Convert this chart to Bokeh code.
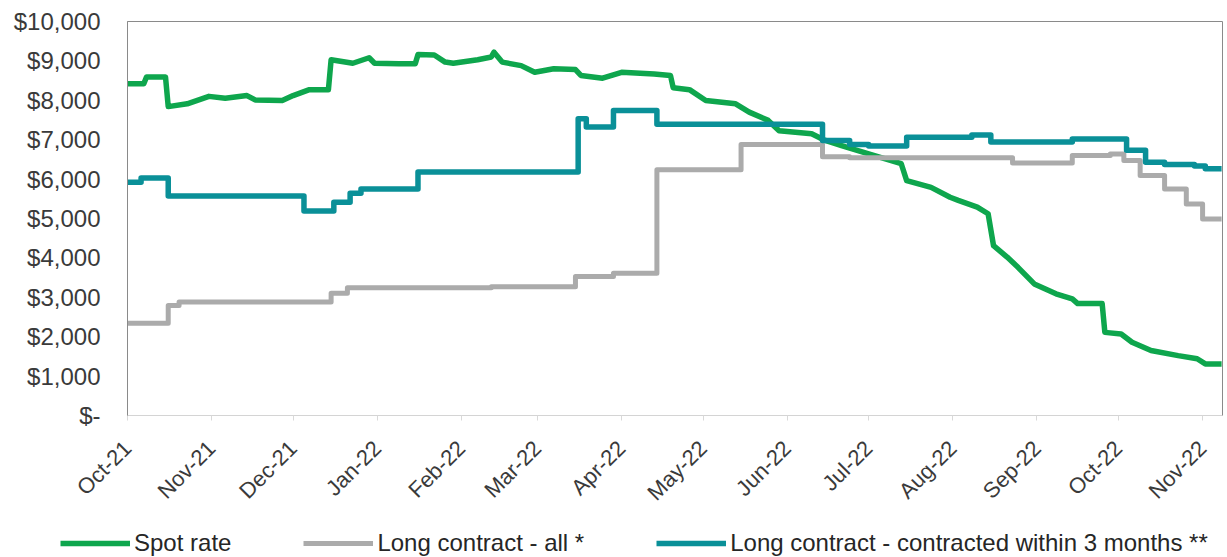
import pandas as pd
from math import pi
from bokeh.plotting import figure
from bokeh.layouts import column
from bokeh.models import (Range1d, FixedTicker, CustomJSTickFormatter, DatetimeTickFormatter,
                          MonthsTicker, Legend, LegendItem)
from bokeh.embed import file_html
from bokeh.resources import INLINE

# ---------------- data ----------------
spot_dates = [
    "2021-10-01", "2021-10-07", "2021-10-08", "2021-10-15", "2021-10-16", "2021-10-23",
    "2021-10-31", "2021-11-06", "2021-11-14", "2021-11-17", "2021-11-27", "2021-12-01",
    "2021-12-07", "2021-12-14", "2021-12-15", "2021-12-23", "2021-12-29", "2021-12-31",
    "2022-01-09", "2022-01-15", "2022-01-16", "2022-01-22", "2022-01-26", "2022-01-29",
    "2022-02-07", "2022-02-12", "2022-02-13", "2022-02-16", "2022-02-23", "2022-02-28",
    "2022-03-07", "2022-03-15", "2022-03-17", "2022-03-25", "2022-04-01", "2022-04-13",
    "2022-04-19", "2022-04-20", "2022-04-26", "2022-05-02", "2022-05-13", "2022-05-18",
    "2022-05-25", "2022-05-29", "2022-06-10", "2022-06-15", "2022-06-21", "2022-07-01",
    "2022-07-13", "2022-07-15", "2022-07-24", "2022-07-31", "2022-08-03", "2022-08-10",
    "2022-08-14", "2022-08-16", "2022-08-21", "2022-08-25", "2022-08-31", "2022-09-08",
    "2022-09-14", "2022-09-16", "2022-09-25", "2022-09-26", "2022-10-02", "2022-10-06",
    "2022-10-13", "2022-10-23", "2022-10-30", "2022-11-02", "2022-11-08",
]
spot_values = [
    8420, 8420, 8590, 8590, 7840, 7910,
    8100, 8050, 8120, 8010, 7995, 8120,
    8270, 8270, 9030, 8940, 9080, 8940,
    8930, 8930, 9160, 9150, 8970, 8940,
    9030, 9100, 9220, 8970, 8880, 8710,
    8800, 8780, 8630, 8560, 8710, 8670,
    8630, 8320, 8270, 7995, 7910, 7700,
    7490, 7230, 7150, 6980, 6850, 6640,
    6390, 5960, 5790, 5540, 5460, 5290,
    5120, 4310, 4020, 3760, 3340, 3090,
    2960, 2840, 2840, 2110, 2070, 1860,
    1650, 1520, 1440, 1310, 1310,
]

all_dates = [
    "2021-10-01", "2021-10-16", "2021-10-20", "2021-12-15", "2021-12-21", "2022-02-12",
    "2022-03-15", "2022-03-29", "2022-04-14", "2022-05-15", "2022-06-14", "2022-06-24",
    "2022-08-23", "2022-09-14", "2022-09-28", "2022-10-03", "2022-10-09", "2022-10-18",
    "2022-10-26", "2022-11-01", "2022-11-08",
]
all_values = [
    2340, 2790, 2880, 3100, 3240, 3270,
    3530, 3610, 6240, 6880, 6570, 6540,
    6410, 6600, 6640, 6470, 6090, 5750,
    5370, 4990, 4990,
]

recent_dates = [
    "2021-10-01", "2021-10-06", "2021-10-16", "2021-12-05", "2021-12-16", "2021-12-22",
    "2021-12-26", "2022-01-16", "2022-03-16", "2022-03-19", "2022-03-29", "2022-04-14",
    "2022-06-14", "2022-06-24", "2022-07-01", "2022-07-15", "2022-08-08", "2022-08-15",
    "2022-09-14", "2022-10-04", "2022-10-11", "2022-10-18", "2022-10-29", "2022-11-02",
    "2022-11-08",
]
recent_values = [
    5920, 6030, 5570, 5190, 5410, 5640,
    5750, 6180, 7530, 7320, 7740, 7390,
    6980, 6880, 6840, 7060, 7120, 6940,
    7020, 6730, 6430, 6370, 6330, 6260,
    6260,
]

y_ticks = [0, 1000, 2000, 3000, 4000, 5000, 6000, 7000, 8000, 9000, 10000]
series_labels = ["Spot rate", "Long contract - all *", "Long contract - contracted within 3 months **"]
series_colors = ["#0EA64D", "#ABABAB", "#0A9098"]

# ---------------- main chart ----------------
FONT = "Liberation Sans"
TEXT = "#3a3a3a"

p = figure(width=1227, height=520, x_axis_type="datetime",
           output_backend="svg", toolbar_location=None,
           min_border_left=127, min_border_right=5, min_border_top=21, min_border_bottom=105)

p.x_range = Range1d(pd.Timestamp("2021-10-01"), pd.Timestamp("2022-11-08 08:00"))
p.y_range = Range1d(0, 10000)

p.line(pd.to_datetime(spot_dates), spot_values, line_color=series_colors[0], line_width=5.5,
       line_join="round")
p.step(pd.to_datetime(all_dates), all_values, mode="after", line_color=series_colors[1],
       line_width=5, line_join="round")
p.step(pd.to_datetime(recent_dates), recent_values, mode="after", line_color=series_colors[2],
       line_width=5.5, line_join="round")

p.grid.visible = False
p.background_fill_color = "white"
p.border_fill_color = "white"
p.outline_line_color = "#8a8a8a"
p.outline_line_width = 1

yax = p.yaxis[0]
yax.ticker = FixedTicker(ticks=y_ticks)
yax.formatter = CustomJSTickFormatter(code="""
    if (tick == 0) { return "$-"; }
    return "$" + tick.toLocaleString("en-US");
""")
yax.major_label_text_font = FONT
yax.major_label_text_font_size = "24px"
yax.major_label_text_color = TEXT
yax.major_tick_line_color = None
yax.minor_tick_line_color = None
yax.major_tick_out = 0
yax.major_label_standoff = 27
yax.axis_line_color = "#8a8a8a"

xax = p.xaxis[0]
xax.ticker = MonthsTicker(months=list(range(1, 13)))
fmt = "%b-%y"
xax.formatter = DatetimeTickFormatter(days=fmt, months=fmt, years=fmt, hours=fmt)
xax.major_label_orientation = pi / 4
xax.major_label_text_font = FONT
xax.major_label_text_font_size = "22px"
xax.major_label_text_color = TEXT
xax.major_tick_line_color = "#d9d9d9"
xax.major_tick_out = 5
xax.major_tick_in = 0
xax.minor_tick_line_color = None
xax.axis_line_color = "#d4d4d4"
xax.major_label_standoff = 24

# ---------------- legend strip ----------------
q = figure(width=1227, height=37, output_backend="svg", toolbar_location=None,
           x_axis_location=None, y_axis_location=None,
           min_border_left=0, min_border_right=0, min_border_top=0, min_border_bottom=0)
q.x_range = Range1d(0, 1)
q.y_range = Range1d(0, 1)
q.grid.visible = False
q.outline_line_color = None
q.border_fill_color = "white"
q.background_fill_color = "white"

for fig in (p, q):
    try:
        fig.frame_align = False
    except Exception:
        pass

items = []
widths = [5.5, 5, 5.5]
for lab, col, w in zip(series_labels, series_colors, widths):
    r = q.line([-1.0], [float("nan")], line_color=col, line_width=w)
    items.append(LegendItem(label=lab, renderers=[r]))

legend = Legend(
    items=items, orientation="horizontal", location=(60, 0),
    padding=0, margin=0, spacing=72,
    glyph_width=70, glyph_height=28, label_standoff=4,
    label_text_font=FONT, label_text_font_size="24px", label_text_color="#262626",
    border_line_color=None, background_fill_alpha=0,
)
q.add_layout(legend)

layout = column(p, q, spacing=0)
open("out.html", "w").write(file_html(layout, INLINE))
